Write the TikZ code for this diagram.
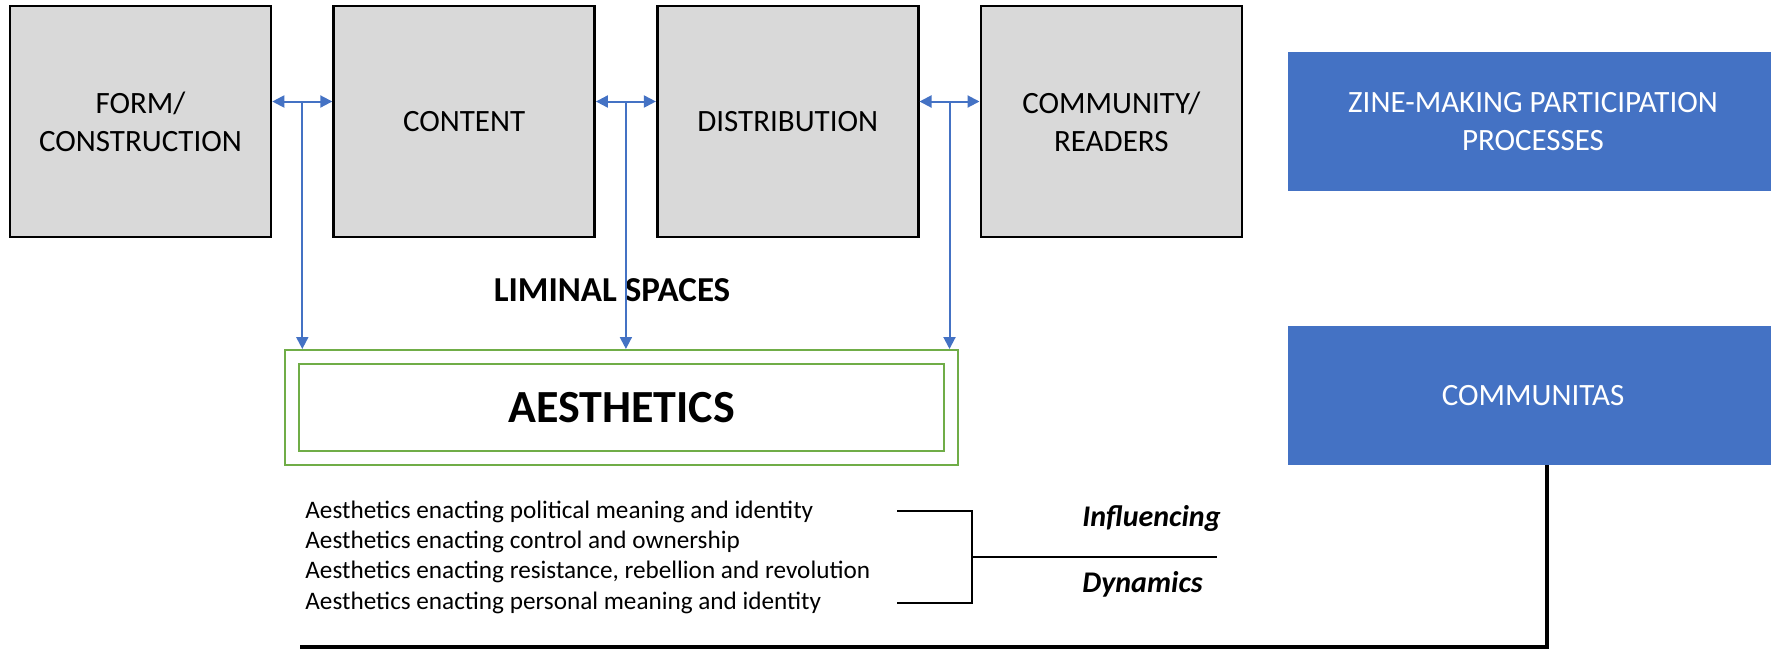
\documentclass[tikz,border=0pt]{standalone}
\usepackage{fontspec}
\setmainfont{Carlito}
\usepackage{xcolor}
\usepackage{tikz}
\usetikzlibrary{arrows.meta, positioning}

\definecolor{boxgray}{HTML}{D9D9D9}
\definecolor{accblue}{HTML}{4472C4}
\definecolor{accgreen}{HTML}{70AD47}

\begin{document}
\begin{tikzpicture}[
    x=0.5pt, y=-0.5pt,
    node distance=30pt,
    stage/.style={rectangle, draw, line width=1.3pt, fill=boxgray,
                  minimum width=130.5pt, minimum height=115.5pt,
                  inner sep=0pt, align=center,
                  font=\fontsize{15.5}{19}\selectfont},
    outcome/.style={rectangle, fill=accblue, text=white,
                  minimum width=245.5pt, minimum height=69.5pt,
                  inner sep=0pt, align=center,
                  font=\fontsize{15.5}{19}\selectfont},
    frame/.style={rectangle, draw=accgreen, line width=1pt, inner sep=0pt},
    link/.style={arrows={Triangle[length=6pt,width=6pt]-Triangle[length=6pt,width=6pt]},
                 draw=accblue, fill=accblue, line width=1pt},
    drop/.style={-{Triangle[length=6pt,width=6pt]}, draw=accblue,
                 fill=accblue, line width=1pt},
    enact/.style={anchor=west, inner sep=0pt, font=\fontsize{12.6}{15}\selectfont},
    dyntext/.style={anchor=west, inner sep=0pt,
                    font=\fontsize{15}{18}\selectfont\bfseries\itshape},
    brace/.style={draw, line width=1pt},
    trunk/.style={draw, line width=2pt, line join=miter},
    every node/.style={font=\fontsize{15.5}{19}\selectfont}
]
    \useasboundingbox (0,0) rectangle (1771,650);

    % participation stages
    \node[stage] (form) at (140.5,121.5) {FORM/\\CONSTRUCTION};
    \node[stage, right=of form] (content) {CONTENT};
    \node[stage, right=of content] (dist) {DISTRIBUTION};
    \node[stage, right=of dist] (comm) {COMMUNITY/\\READERS};

    \node[outcome, right=22pt of comm] (zine) {ZINE-MAKING PARTICIPATION\\PROCESSES};
    \node[outcome, below=67pt of zine] (communitas) {COMMUNITAS};

    % aesthetics frame
    \node[frame, minimum width=336.5pt, minimum height=57.5pt] (aes) at (621.5,407.5) {};
    \node[frame, minimum width=322.5pt, minimum height=43.5pt,
          font=\fontsize{23}{27}\selectfont\bfseries] (aesin) at (aes) {AESTHETICS};

    \node[font=\fontsize{17.5}{21}\selectfont\bfseries] (liminal) at (612,290) {LIMINAL SPACES};

    % links between stages, dropping into the frame
    \draw[link] ([yshift=10pt]form.east) -- ([yshift=10pt]content.west) coordinate[midway] (j1);
    \draw[link] ([yshift=10pt]content.east) -- ([yshift=10pt]dist.west) coordinate[midway] (j2);
    \draw[link] ([yshift=10pt]dist.east) -- ([yshift=10pt]comm.west) coordinate[midway] (j3);
    \draw[drop] (j1) -- (j1 |- aes.north);
    \draw[drop] (j2) -- (j2 |- aes.north);
    \draw[drop] (j3) -- (j3 |- aes.north);

    % enactments
    \node[enact] (e1) at (305,512) {Aesthetics enacting political meaning and identity};
    \node[enact] (e2) at (305,542) {Aesthetics enacting control and ownership};
    \node[enact] (e3) at (305,572) {Aesthetics enacting resistance, rebellion and revolution};
    \node[enact] (e4) at (305,603) {Aesthetics enacting personal meaning and identity};

    \coordinate (btop) at (897,511);
    \coordinate (bbot) at (897,603);
    \coordinate (bmid) at (972,557);
    \coordinate (bend) at (1217,557);
    \draw[brace] (btop) -| (bmid |- bbot) -- (bbot);
    \draw[brace] (bmid) -- (bend);

    \node[dyntext] (infl) at (1082,518) {Influencing};
    \node[dyntext] (dyn) at (1082,584) {Dynamics};

    % feedback from communitas
    \coordinate (fb) at (300,647);
    \draw[trunk] ([xshift=7pt]communitas.south) |- (fb);
\end{tikzpicture}
\end{document}
